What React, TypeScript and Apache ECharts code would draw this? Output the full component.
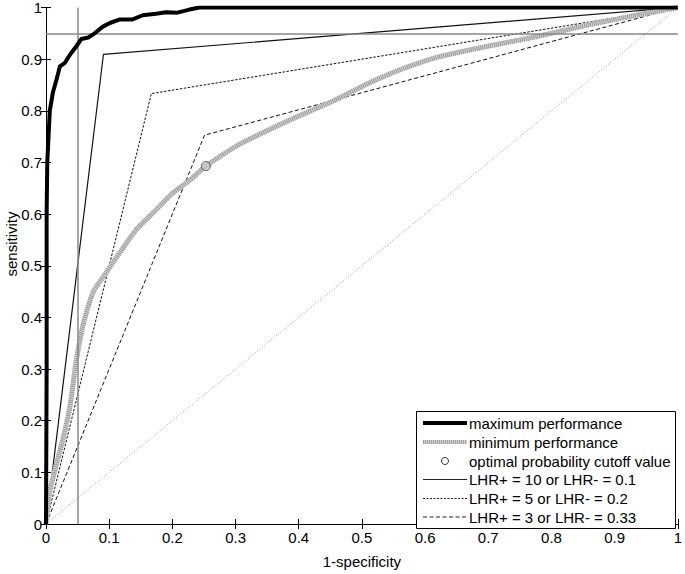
import React, { useEffect, useRef } from "react";
import * as echarts from "echarts";

const tickLabels = ["0", "0.1", "0.2", "0.3", "0.4", "0.5", "0.6", "0.7", "0.8", "0.9", "1"];

const maxFpr = [0, 0.001, 0.001, 0.002, 0.004, 0.006, 0.011, 0.017, 0.022, 0.030, 0.035, 0.040, 0.048, 0.056, 0.067, 0.077, 0.090, 0.101, 0.117, 0.137, 0.153, 0.174, 0.190, 0.208, 0.227, 0.243, 1];
const maxTpr = [0, 0.3, 0.6, 0.7, 0.75, 0.80, 0.836, 0.862, 0.886, 0.893, 0.903, 0.912, 0.925, 0.939, 0.942, 0.950, 0.963, 0.970, 0.977, 0.977, 0.985, 0.988, 0.991, 0.990, 0.996, 1, 1];

const minFpr = [0, 0.006, 0.027, 0.038, 0.048, 0.059, 0.075, 0.096, 0.117, 0.143, 0.174, 0.200, 0.227, 0.253, 0.306, 0.384, 0.458, 0.515, 0.568, 0.620, 0.699, 0.778, 0.857, 0.930, 1];
const minTpr = [0, 0.064, 0.165, 0.228, 0.317, 0.387, 0.450, 0.488, 0.526, 0.570, 0.608, 0.640, 0.665, 0.693, 0.735, 0.781, 0.821, 0.856, 0.883, 0.904, 0.925, 0.944, 0.966, 0.984, 1];

const optimalPoint = [0.253, 0.693];

const lhr10Fpr = [0, 0.0909, 1];
const lhr10Tpr = [0, 0.9091, 1];
const lhr5Fpr = [0, 0.1667, 1];
const lhr5Tpr = [0, 0.8333, 1];
const lhr3Fpr = [0, 0.2509, 1];
const lhr3Tpr = [0, 0.7528, 1];
const chanceFpr = [0, 1];
const chanceTpr = [0, 1];

const refSpecificity = 0.05;
const refSensitivity = 0.95;

const legendLabels = [
  "maximum performance",
  "minimum performance",
  "optimal probability cutoff value",
  "LHR+ = 10 or LHR- = 0.1",
  "LHR+ = 5 or LHR- = 0.2",
  "LHR+ = 3 or LHR- = 0.33",
];

const FONT = "'Liberation Sans', Arial, sans-serif";

const zip = (a: number[], b: number[]) => a.map((v, i) => [v, b[i]]);

export default function App() {
  const ref = useRef<HTMLDivElement>(null);
  useEffect(() => {
    if (!ref.current) return;
    const chart = echarts.init(ref.current, null, { renderer: "svg" });
    const axisCommon = {
      type: "value" as const,
      min: 0,
      max: 1,
      interval: 0.1,
      splitLine: { show: false },
      axisLine: { show: true, lineStyle: { color: "#000", width: 1 } },
      axisTick: { show: true, inside: true, length: 5, lineStyle: { color: "#000" } },
    };
    const labelFmt = (v: number) => tickLabels[Math.round(v * 10)] ?? "";
    const lx = 423, lx2 = 467, tx = 469;
    const rows = [423, 442, 461, 479.5, 498.5, 517];
    const legendGraphics: any[] = [
      {
        type: "rect",
        shape: { x: 416.5, y: 411.5, width: 259, height: 117 },
        style: { fill: "#fff", stroke: "#000", lineWidth: 1 },
        z: 100,
      },
      { type: "line", shape: { x1: lx, y1: rows[0], x2: lx2, y2: rows[0] }, style: { stroke: "#000", lineWidth: 4 }, z: 101 },
      { type: "line", shape: { x1: lx, y1: rows[1], x2: lx2, y2: rows[1] }, style: { stroke: "#d4d4d4", lineWidth: 4 }, z: 101 },
      { type: "line", shape: { x1: lx, y1: rows[1], x2: lx2, y2: rows[1] }, style: { stroke: "#a0a0a0", lineWidth: 4, lineDash: [1, 1] }, z: 102 },
      { type: "circle", shape: { cx: 445, cy: rows[2], r: 3.5 }, style: { fill: "none", stroke: "#333", lineWidth: 1 }, z: 101 },
      { type: "line", shape: { x1: lx, y1: rows[3], x2: lx2, y2: rows[3] }, style: { stroke: "#222", lineWidth: 1 }, z: 101 },
      { type: "line", shape: { x1: lx, y1: rows[4], x2: lx2, y2: rows[4] }, style: { stroke: "#222", lineWidth: 1, lineDash: [2, 1.5] }, z: 101 },
      { type: "line", shape: { x1: lx, y1: rows[5], x2: lx2, y2: rows[5] }, style: { stroke: "#222", lineWidth: 1, lineDash: [4, 2.5] }, z: 101 },
      ...legendLabels.map((t, i) => ({
        type: "text",
        x: tx,
        y: rows[i],
        style: { text: t, fill: "#000", font: `15px ${FONT}`, verticalAlign: "middle", textAlign: "left" },
        z: 101,
      })),
      {
        type: "text",
        x: 11,
        y: 244,
        rotation: Math.PI / 2,
        style: { text: "sensitivity", fill: "#000", font: `15px ${FONT}`, textAlign: "center", verticalAlign: "middle" },
        z: 101,
      },
    ];
    chart.setOption({
      animation: false,
      backgroundColor: "#fff",
      grid: { left: 46, right: 4, top: 7, bottom: 40, containLabel: false },
      xAxis: [
        {
          ...axisCommon,
          position: "bottom",
          name: "1-specificity",
          nameLocation: "middle",
          nameGap: 30,
          nameTextStyle: { fontFamily: FONT, fontSize: 15, color: "#000" },
          axisLabel: { show: true, formatter: labelFmt, fontFamily: FONT, fontSize: 15, color: "#000", margin: 6, showMinLabel: true, showMaxLabel: true },
        },
        { ...axisCommon, position: "top", axisLabel: { show: false } },
      ],
      yAxis: [
        {
          ...axisCommon,
          position: "left",
          axisLabel: { show: true, formatter: labelFmt, fontFamily: FONT, fontSize: 15, color: "#000", margin: 4, showMinLabel: true, showMaxLabel: true },
        },
        { ...axisCommon, position: "right", axisLabel: { show: false } },
      ],
      graphic: legendGraphics,
      series: [
        {
          type: "line",
          data: zip(chanceFpr, chanceTpr),
          showSymbol: false,
          lineStyle: { color: "#999", width: 1, type: [1, 2] },
          markLine: {
            silent: true,
            symbol: "none",
            label: { show: false },
            lineStyle: { color: "#888", width: 1.5, type: "solid" },
            data: [{ xAxis: refSpecificity }, { yAxis: refSensitivity }],
          },
          z: 1,
        },
        {
          type: "line",
          data: zip(lhr10Fpr, lhr10Tpr),
          showSymbol: false,
          lineStyle: { color: "#111", width: 1.2, type: "solid" },
          z: 2,
        },
        {
          type: "line",
          data: zip(lhr5Fpr, lhr5Tpr),
          showSymbol: false,
          lineStyle: { color: "#111", width: 1, type: [2.5, 1.5] },
          z: 2,
        },
        {
          type: "line",
          data: zip(lhr3Fpr, lhr3Tpr),
          showSymbol: false,
          lineStyle: { color: "#111", width: 1, type: [4, 2.5] },
          z: 2,
        },
        {
          type: "line",
          data: zip(minFpr, minTpr),
          showSymbol: false,
          smooth: 0.2,
          lineStyle: { color: "#d4d4d4", width: 5 },
          z: 3,
        },
        {
          type: "line",
          data: zip(minFpr, minTpr),
          showSymbol: false,
          smooth: 0.2,
          lineStyle: { color: "#9a9a9a", width: 5, type: [1, 1] },
          z: 4,
        },
        {
          type: "scatter",
          data: [optimalPoint],
          symbol: "circle",
          symbolSize: 9,
          itemStyle: { color: "#c8c8c8", borderColor: "#444", borderWidth: 1 },
          z: 5,
        },
        {
          type: "line",
          data: zip(maxFpr, maxTpr),
          showSymbol: false,
          lineStyle: { color: "#000", width: 4, join: "round" },
          z: 6,
        },
      ],
    });
    return () => chart.dispose();
  }, []);
  return <div ref={ref} style={{ width: 685, height: 574, position: "absolute", left: 0, top: 0 }} />;
}
